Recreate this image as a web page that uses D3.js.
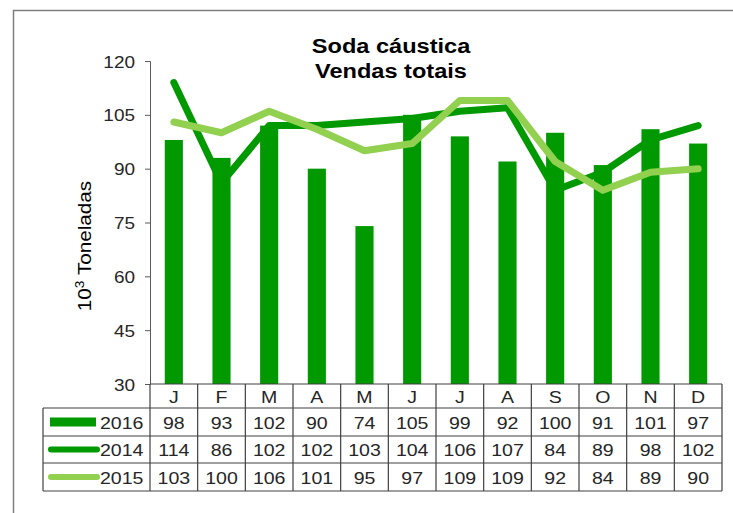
<!DOCTYPE html>
<html>
<head>
<meta charset="utf-8">
<script src="https://cdn.jsdelivr.net/npm/d3@7"></script>
<style>
  body { margin: 0; background: #fff; }
  text { font-family: "Liberation Sans", Arial, sans-serif; fill: #262626; }
</style>
</head>
<body>
<div class="chart"></div>
<script>
// data
const months = ["J", "F", "M", "A", "M", "J", "J", "A", "S", "O", "N", "D"]
const sales2016 = [98, 93, 102, 90, 74, 105, 99, 92, 100, 91, 101, 97]
const sales2014 = [114, 86, 102, 102, 103, 104, 106, 107, 84, 89, 98, 102]
const sales2015 = [103, 100, 106, 101, 95, 97, 109, 109, 92, 84, 89, 90]
const yTicks = [30, 45, 60, 75, 90, 105, 120]

const width = 733, height = 513
const barColor = "#009900", line14 = "#009900", line15 = "#92d050"
const sx = 1.15 // the source picture is a bit stretched sideways

const svg = d3.select(".chart").append("svg")
    .attr("width", width)
    .attr("height", height)

// place a text at (px,py), widened like the original
const place = (px, py) => "translate(" + px + "," + py + ") scale(" + sx + ",1)"

// outer frame
svg.append("rect")
    .attr("x", 13.5).attr("y", 10.5)
    .attr("width", 760).attr("height", 540)
    .attr("fill", "none")
    .attr("stroke", "#7f7f7f")
    .attr("stroke-width", 1.5)

const plotLeft = 150, plotRight = 722, plotTop = 61, plotBottom = 384
const idx = months.map((m, i) => i)

let x = d3.scaleBand()
    .domain(idx)
    .range([plotLeft, plotRight])
    .paddingInner(0.62)
    .paddingOuter(0.31)
let y = d3.scaleLinear().domain([30, 120]).range([plotBottom, plotTop])
const cx = i => x(i) + x.bandwidth() / 2

// title
svg.append("text").attr("transform", place(391, 53))
    .attr("text-anchor", "middle").style("font-size", "20.5px").style("font-weight", "bold")
    .style("fill", "#000").text("Soda cáustica")
svg.append("text").attr("transform", place(391, 78))
    .attr("text-anchor", "middle").style("font-size", "20.5px").style("font-weight", "bold")
    .style("fill", "#000").text("Vendas totais")

// y axis label
svg.append("text")
    .attr("transform", "translate(91,246) rotate(-90) scale(" + sx + ",1)")
    .attr("text-anchor", "middle")
    .style("font-size", "18px")
    .style("fill", "#000")
    .html("10<tspan font-size='12px' dy='-7'>3</tspan><tspan dy='7'> Toneladas</tspan>")

// y axis
let yAxis = svg.append("g")
    .attr("transform", "translate(" + plotLeft + ",0)")
    .call(d3.axisLeft(y).tickValues(yTicks).tickSize(5))
yAxis.select(".domain").attr("stroke", "#595959").attr("stroke-width", 1)
yAxis.selectAll(".tick line").attr("stroke", "#595959")
yAxis.selectAll(".tick text")
    .attr("x", null).attr("dy", null)
    .attr("transform", place(-15, 6))
    .style("font-size", "16.5px").style("fill", "#262626")
    .style("font-family", "Liberation Sans, Arial, sans-serif")

// bars
svg.selectAll(".bar")
    .data(sales2016)
    .enter()
    .append("rect")
    .attr("x", (d, i) => x(i))
    .attr("width", x.bandwidth())
    .attr("y", d => y(d))
    .attr("height", d => plotBottom - y(d))
    .attr("fill", barColor)

// lines
let line = d3.line().x((d, i) => cx(i)).y(d => y(d))
svg.append("path").datum(sales2014)
    .attr("d", line).attr("fill", "none")
    .attr("stroke", line14).attr("stroke-width", 7)
    .attr("stroke-linecap", "round").attr("stroke-linejoin", "round")
svg.append("path").datum(sales2015)
    .attr("d", line).attr("fill", "none")
    .attr("stroke", line15).attr("stroke-width", 7)
    .attr("stroke-linecap", "round").attr("stroke-linejoin", "round")

// data table
const legLeft = 43
const rowY = [384, 408, 436, 463, 491]
const step = x.step()
const colEdges = d3.range(13).map(i => plotLeft + i * step)
const grid = svg.append("g").attr("stroke", "#404040").attr("stroke-width", 1.2)

// horizontal lines
grid.append("line").attr("x1", plotLeft).attr("x2", plotRight).attr("y1", rowY[0]).attr("y2", rowY[0])
rowY.slice(1).forEach(yy => {
    grid.append("line").attr("x1", legLeft).attr("x2", plotRight).attr("y1", yy).attr("y2", yy)
})
// vertical lines
grid.append("line").attr("x1", legLeft).attr("x2", legLeft).attr("y1", rowY[1]).attr("y2", rowY[4])
colEdges.forEach(xx => {
    grid.append("line").attr("x1", xx).attr("x2", xx).attr("y1", rowY[0]).attr("y2", rowY[4])
})

// month labels
svg.selectAll(".mlab")
    .data(months)
    .enter()
    .append("text")
    .attr("transform", (d, i) => place(cx(i), (rowY[0] + rowY[1]) / 2 + 6.5))
    .attr("text-anchor", "middle")
    .style("font-size", "17px")
    .text(d => d)

const rows = [
    {name: "2016", values: sales2016, type: "bar", color: barColor},
    {name: "2014", values: sales2014, type: "line", color: line14},
    {name: "2015", values: sales2015, type: "line", color: line15}
]

rows.forEach((r, k) => {
    let mid = (rowY[k + 1] + rowY[k + 2]) / 2
    svg.selectAll(".v" + k)
        .data(r.values)
        .enter()
        .append("text")
        .attr("transform", (d, i) => place(cx(i), mid + 6.5))
        .attr("text-anchor", "middle")
        .style("font-size", "17px")
        .text(d => d)

    if (r.type === "bar") {
        svg.append("rect").attr("x", 50).attr("y", mid - 4.5)
            .attr("width", 46).attr("height", 9).attr("fill", r.color)
    } else {
        svg.append("line").attr("x1", 51).attr("x2", 97)
            .attr("y1", mid).attr("y2", mid)
            .attr("stroke", r.color).attr("stroke-width", 6)
            .attr("stroke-linecap", "round")
    }
    svg.append("text").attr("transform", place(100, mid + 6.5))
        .style("font-size", "17px").text(r.name)
})
</script>
</body>
</html>
